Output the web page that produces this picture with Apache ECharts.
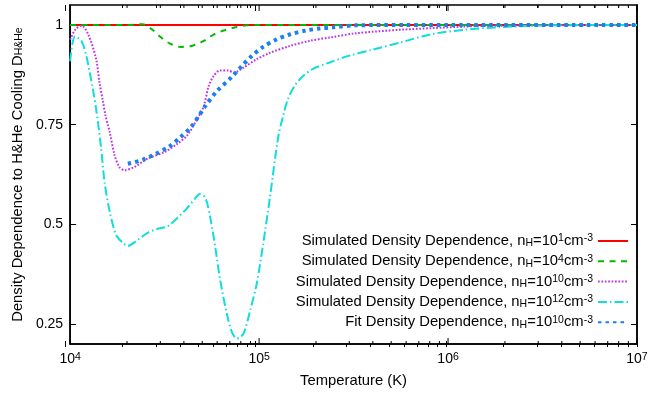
<!DOCTYPE html>
<html><head><meta charset="utf-8">
<script src="https://cdn.jsdelivr.net/npm/echarts@6/dist/echarts.min.js"></script>
<style>html,body{margin:0;padding:0;background:#fff}#c{width:661px;height:393px}</style>
</head><body><div id="c"></div>
<script>
// Temperature (K) and density dependence values
const redT = [1e4, 1e5, 1e6, 1e7];
const redV = [1.0, 1.0, 1.0, 1.0];

const greenT = [1e4, 2e4, 2.42e4, 2.71e4, 3.02e4, 3.38e4, 3.84e4, 4.43e4, 5.1e4, 5.75e4, 6.49e4, 7.5e4, 8.6e4, 1.0e5, 1.4e5, 1e6, 1e7];
const greenV = [1.0, 1.0, 1.002, 0.989, 0.969, 0.953, 0.945, 0.948, 0.96, 0.976, 0.986, 0.994, 0.999, 1.0, 1.0, 1.0, 1.0];

const purpleT = [1e4, 1.07e4, 1.15e4, 1.25e4, 1.375e4, 1.43e4, 1.49e4, 1.535e4, 1.62e4, 1.72e4, 1.82e4, 1.94e4, 2.19e4, 2.57e4, 3.14e4, 3.69e4, 4.16e4, 4.7e4, 5.1e4, 5.41e4, 5.75e4, 6.2e4, 6.8e4, 7.4e4, 8.26e4, 9.7e4, 1.14e5, 1.45e5, 1.85e5, 2.4e5, 3.25e5, 5.6e5, 8.2e5, 1.23e6, 1.84e6, 3e6, 1e7];
const purpleV = [0.963, 0.99, 0.998, 0.975, 0.913, 0.855, 0.81, 0.775, 0.731, 0.673, 0.644, 0.636, 0.644, 0.665, 0.681, 0.702, 0.723, 0.764, 0.797, 0.847, 0.872, 0.886, 0.886, 0.881, 0.893, 0.914, 0.93, 0.947, 0.96, 0.969, 0.979, 0.988, 0.992, 0.996, 0.998, 0.999, 1.0];

const cyanT = [1e4, 1.06e4, 1.15e4, 1.22e4, 1.27e4, 1.32e4, 1.38e4, 1.46e4, 1.52e4, 1.62e4, 1.75e4, 1.9e4, 2.02e4, 2.23e4, 2.57e4, 2.9e4, 3.27e4, 3.69e4, 4.16e4, 4.6e4, 4.86e4, 5.2e4, 5.52e4, 5.87e4, 6.23e4, 6.75e4, 7.18e4, 7.62e4, 8.26e4, 8.96e4, 9.7e4, 1.05e5, 1.14e5, 1.262e5, 1.34e5, 1.42e5, 1.54e5, 1.71e5, 1.93e5, 2.36e5, 3.0e5, 3.98e5, 5.6e5, 8.2e5, 1.23e6, 1.84e6, 2.75e6, 5e6, 1e7];
const cyanV = [0.909, 0.971, 0.959, 0.921, 0.88, 0.839, 0.781, 0.69, 0.607, 0.532, 0.474, 0.454, 0.446, 0.458, 0.479, 0.489, 0.495, 0.516, 0.541, 0.566, 0.576, 0.566, 0.516, 0.441, 0.359, 0.276, 0.23, 0.214, 0.226, 0.284, 0.35, 0.45, 0.566, 0.719, 0.772, 0.814, 0.847, 0.872, 0.89, 0.906, 0.923, 0.938, 0.956, 0.977, 0.988, 0.994, 0.998, 1.0, 1.0];

const blueT = [2.02e4, 2.42e4, 2.84e4, 3.34e4, 3.84e4, 4.34e4, 4.8e4, 5.2e4, 5.98e4, 7.18e4, 8.1e4, 9.14e4, 1.05e5, 1.24e5, 1.45e5, 1.77e5, 2.09e5, 2.45e5, 3.25e5, 6e5, 1e6, 1e7];
const blueV = [0.652, 0.662, 0.677, 0.695, 0.719, 0.743, 0.772, 0.797, 0.834, 0.87, 0.897, 0.922, 0.945, 0.964, 0.976, 0.986, 0.991, 0.994, 0.999, 1.0, 1.0, 1.0];

const seriesNames = [
  'Simulated Density Dependence, n{sub|H}=10{sup|1}cm{sup|-3}',
  'Simulated Density Dependence, n{sub|H}=10{sup|4}cm{sup|-3}',
  'Simulated Density Dependence, n{sub|H}=10{sup|10}cm{sup|-3}',
  'Simulated Density Dependence, n{sub|H}=10{sup|12}cm{sup|-3}',
  'Fit Density Dependence, n{sub|H}=10{sup|10}cm{sup|-3}'
];
const xMajorTicks = [1e4, 1e5, 1e6, 1e7];
const xMinorTicks = [];
[1e4, 1e5, 1e6].forEach(d => { for (let k = 2; k <= 9; k++) xMinorTicks.push(k * d); });
const yTicks = [0.25, 0.5, 0.75, 1];
const Y_MIN = 0.2, Y_MAX = 1.05;

const FONT = 'Liberation Sans, Arial, Helvetica, sans-serif';
const pair = (T, V) => T.map((t, i) => [t, V[i]]);
const lg = a => a.map(v => Math.log10(v));

const rich = {
  sub: { fontSize: 10.5, fontFamily: FONT, color: '#000', verticalAlign: 'bottom', lineHeight: 10, padding: [6, 0, 0, 0] },
  sup: { fontSize: 10.5, fontFamily: FONT, color: '#000', verticalAlign: 'top', lineHeight: 10, padding: [0, 0, 6, 0] }
};

function mkLine(name, T, V, color, width, type) {
  return {
    name, type: 'line', data: pair(T, V), smooth: 0.3, symbol: 'none', showSymbol: false,
    lineStyle: { color, width, type }, itemStyle: { color }, z: 3
  };
}

const GRID = { left: 65, right: 24, top: 5, bottom: 46, containLabel: false };
// overlay grids (same rectangle) that only carry inward x tick marks on a log10(T) scale
function tickXAxis(gridIndex, position, len, ticks) {
  const ax = {
    type: 'value', gridIndex, min: 4, max: 7, position, splitLine: { show: false },
    axisLine: { show: false }, axisLabel: { show: false },
    axisTick: { show: true, inside: true, length: len, lineStyle: { color: '#000', width: 1 } }
  };
  if (ticks) ax.axisTick.customValues = lg(ticks); else ax.interval = 1;
  return ax;
}
function hiddenY(gridIndex) {
  return { type: 'value', gridIndex, min: Y_MIN, max: Y_MAX, show: false, splitLine: { show: false } };
}

const chart = echarts.init(document.getElementById('c'), null, { renderer: 'canvas' });
chart.setOption({
  animation: false,
  backgroundColor: '#fff',
  textStyle: { fontFamily: FONT },
  grid: [
    Object.assign({ show: true, borderColor: '#000', borderWidth: 1.5, backgroundColor: 'transparent' }, GRID),
    Object.assign({}, GRID), Object.assign({}, GRID), Object.assign({}, GRID), Object.assign({}, GRID)
  ],
  legend: {
    orient: 'vertical', right: 27, top: 227, align: 'right', itemWidth: 30, itemHeight: 12, itemGap: 2.3,
    data: seriesNames,
    itemStyle: { opacity: 0 },
    textStyle: { fontSize: 14.8, lineHeight: 16, color: '#000', fontFamily: FONT, rich },
    formatter: n => n
  },
  xAxis: [
    {
      type: 'log', logBase: 10, min: 1e4, max: 1e7, splitLine: { show: false }, gridIndex: 0,
      position: 'bottom', name: 'Temperature (K)', nameLocation: 'middle', nameGap: 27,
      nameTextStyle: { fontSize: 14.8, color: '#000', fontFamily: FONT },
      axisLine: { show: true, lineStyle: { color: '#000', width: 1.5 } },
      axisTick: { show: false },
      minorTick: { show: false },
      axisLabel: {
        customValues: xMajorTicks, margin: 8, color: '#000', fontSize: 14, fontFamily: FONT,
        formatter: v => '{b|10}{e|' + Math.round(Math.log10(v)) + '}',
        rich: { b: { fontSize: 14, fontFamily: FONT, color: '#000', verticalAlign: 'bottom', lineHeight: 14 },
                e: { fontSize: 10.5, fontFamily: FONT, color: '#000', verticalAlign: 'top', lineHeight: 10, padding: [0, 0, 5, 0] } }
      }
    },
    tickXAxis(1, 'bottom', 6, null),
    tickXAxis(2, 'top', 6, null),
    tickXAxis(3, 'bottom', 3, xMinorTicks),
    tickXAxis(4, 'top', 3, xMinorTicks)
  ],
  yAxis: [
    {
      type: 'value', min: Y_MIN, max: Y_MAX, position: 'left', splitLine: { show: false }, gridIndex: 0,
      name: 'Density Dependence to H&He Cooling D{s|H&He}', nameLocation: 'middle', nameGap: 45, nameRotate: 90,
      nameTextStyle: { fontSize: 14.8, color: '#000', fontFamily: FONT,
        rich: { s: { fontSize: 10.5, fontFamily: FONT, color: '#000', verticalAlign: 'bottom', lineHeight: 10, padding: [6, 0, 0, 0] } } },
      axisLine: { show: true, lineStyle: { color: '#000', width: 1.5 } },
      axisTick: { show: true, inside: true, length: 6, customValues: yTicks, lineStyle: { color: '#000', width: 1 } },
      axisLabel: { customValues: yTicks, margin: 7, color: '#000', fontSize: 14, fontFamily: FONT }
    },
    {
      type: 'value', min: Y_MIN, max: Y_MAX, position: 'right', splitLine: { show: false }, gridIndex: 0,
      axisLine: { show: true, lineStyle: { color: '#000', width: 1.5 } },
      axisTick: { show: true, inside: true, length: 6, customValues: yTicks, lineStyle: { color: '#000', width: 1 } },
      axisLabel: { show: false }
    },
    hiddenY(1), hiddenY(2), hiddenY(3), hiddenY(4)
  ],
  series: [
    mkLine(seriesNames[0], redT, redV, '#ff0000', 2, 'solid'),
    mkLine(seriesNames[1], greenT, greenV, '#00bb00', 2, [6, 5.5]),
    mkLine(seriesNames[2], purpleT, purpleV, '#bb33ee', 2, [1.7, 1.7]),
    mkLine(seriesNames[3], cyanT, cyanV, '#11dddd', 2, [9, 3, 1.5, 3]),
    mkLine(seriesNames[4], blueT, blueV, '#1a80f0', 4, [3.5, 4])
  ]
});

// also place tick marks through series 0's own scales (harmless duplicate if the axes already drew them)
const tickGraphics = [];
function addTicks(ticks, len) {
  ticks.forEach(t => {
    const b = chart.convertToPixel({ seriesIndex: 0 }, [t, Y_MIN]);
    const p = chart.convertToPixel({ seriesIndex: 0 }, [t, Y_MAX]);
    if (!b || !p || !isFinite(b[0])) return;
    tickGraphics.push({ type: 'rect', silent: true, z: 100, shape: { x: b[0] - 0.5, y: b[1] - len, width: 1, height: len }, style: { fill: '#000' } });
    tickGraphics.push({ type: 'rect', silent: true, z: 100, shape: { x: p[0] - 0.5, y: p[1], width: 1, height: len }, style: { fill: '#000' } });
  });
}
addTicks(xMajorTicks, 6);
addTicks(xMinorTicks, 3);
chart.setOption({ graphic: tickGraphics });
</script></body></html>
